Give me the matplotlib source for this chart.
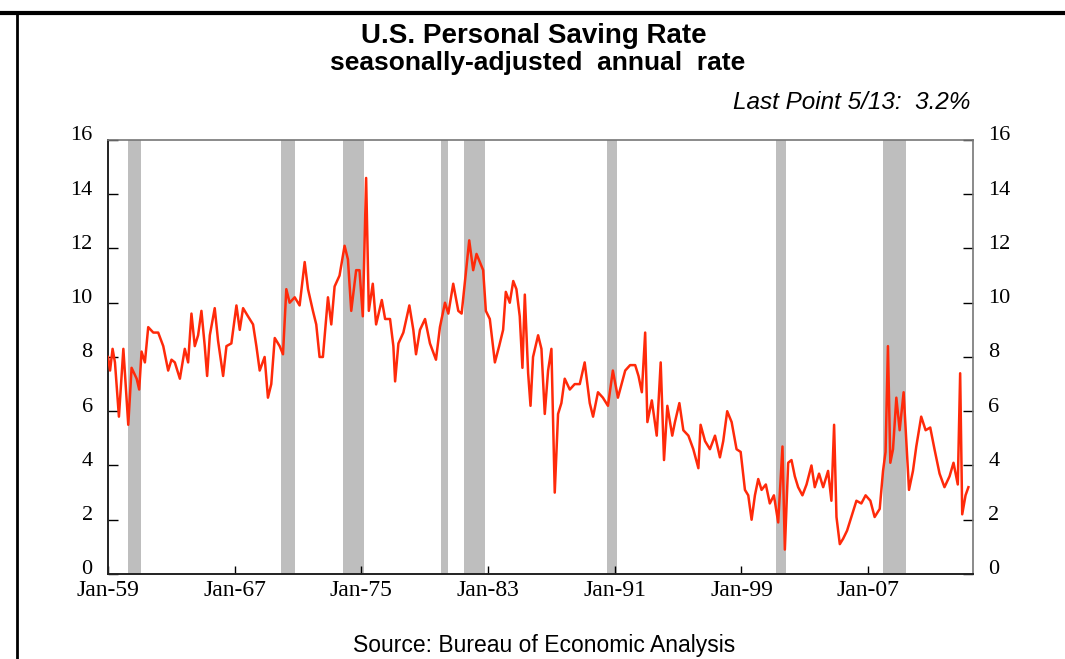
import matplotlib
matplotlib.use("Agg")
import matplotlib.pyplot as plt
import matplotlib.transforms as mtransforms
from matplotlib.lines import Line2D

# decimal years, saving rate in %
years = [
    1959.00, 1959.13, 1959.29, 1959.44, 1959.69, 1959.97, 1960.28, 1960.49, 1960.81, 1960.97,
    1961.12, 1961.33, 1961.54, 1961.86, 1962.17, 1962.49, 1962.80, 1963.01, 1963.22, 1963.54,
    1963.85, 1964.06, 1964.27, 1964.48, 1964.69, 1964.90, 1965.11, 1965.26, 1965.43, 1965.74,
    1965.95, 1966.27, 1966.48, 1966.79, 1967.11, 1967.32, 1967.53, 1967.84, 1968.16, 1968.37,
    1968.58, 1968.89, 1969.10, 1969.31, 1969.53, 1969.84, 1970.05, 1970.26, 1970.47, 1970.79,
    1971.10, 1971.42, 1971.63, 1971.94, 1972.15, 1972.36, 1972.57, 1972.89, 1973.10, 1973.31,
    1973.62, 1973.94, 1974.15, 1974.36, 1974.67, 1974.88, 1975.09, 1975.30, 1975.47, 1975.72,
    1975.93, 1976.29, 1976.50, 1976.81, 1977.02, 1977.13, 1977.34, 1977.65, 1978.03, 1978.28,
    1978.45, 1978.70, 1979.02, 1979.33, 1979.71, 1979.96, 1980.28, 1980.49, 1980.80, 1981.12,
    1981.33, 1981.60, 1981.81, 1982.06, 1982.27, 1982.48, 1982.69, 1982.86, 1983.11, 1983.43,
    1983.70, 1983.95, 1984.12, 1984.37, 1984.59, 1984.79, 1985.00, 1985.17, 1985.32, 1985.53,
    1985.68, 1985.84, 1986.16, 1986.37, 1986.58, 1986.79, 1987.00, 1987.21, 1987.42, 1987.63,
    1987.84, 1988.16, 1988.47, 1988.79, 1989.10, 1989.42, 1989.63, 1989.94, 1990.25, 1990.57,
    1990.88, 1991.20, 1991.66, 1991.97, 1992.29, 1992.50, 1992.71, 1992.92, 1993.06, 1993.34,
    1993.65, 1993.90, 1994.11, 1994.32, 1994.63, 1994.80, 1995.08, 1995.33, 1995.65, 1995.96,
    1996.28, 1996.42, 1996.70, 1997.01, 1997.33, 1997.64, 1997.85, 1998.10, 1998.38, 1998.69,
    1998.95, 1999.22, 1999.43, 1999.64, 1999.85, 2000.06, 2000.27, 2000.54, 2000.79, 2001.05,
    2001.32, 2001.59, 2001.74, 2001.95, 2002.16, 2002.37, 2002.58, 2002.85, 2003.11, 2003.42,
    2003.63, 2003.90, 2004.16, 2004.47, 2004.68, 2004.85, 2005.00, 2005.21, 2005.42, 2005.67,
    2005.94, 2006.26, 2006.57, 2006.84, 2007.14, 2007.41, 2007.73, 2007.94, 2008.10, 2008.25,
    2008.40, 2008.57, 2008.78, 2008.99, 2009.24, 2009.41, 2009.58, 2009.83, 2010.04, 2010.35,
    2010.63, 2010.92, 2011.19, 2011.51, 2011.82, 2012.14, 2012.39, 2012.66, 2012.81, 2012.94,
    2013.15, 2013.33,
]
saving_rate = [
    8.0, 7.5, 8.3, 7.8, 5.8, 8.3, 5.5, 7.6, 7.2, 6.8,
    8.2, 7.8, 9.1, 8.9, 8.9, 8.4, 7.5, 7.9, 7.8, 7.2,
    8.3, 7.8, 9.6, 8.4, 8.8, 9.7, 8.4, 7.3, 8.8, 9.8,
    8.6, 7.3, 8.4, 8.5, 9.9, 9.0, 9.8, 9.5, 9.2, 8.4,
    7.5, 8.0, 6.5, 7.0, 8.7, 8.4, 8.1, 10.5, 10.0, 10.2,
    9.9, 11.5, 10.5, 9.7, 9.2, 8.0, 8.0, 10.2, 9.2, 10.6,
    11.0, 12.1, 11.6, 9.7, 11.2, 11.2, 9.5, 14.6, 9.7, 10.7,
    9.2, 10.1, 9.4, 9.4, 8.4, 7.1, 8.5, 8.9, 9.9, 9.0,
    8.1, 9.0, 9.4, 8.5, 7.9, 9.1, 10.0, 9.6, 10.7, 9.7,
    9.6, 11.1, 12.3, 11.2, 11.8, 11.5, 11.2, 9.7, 9.4, 7.8,
    8.4, 9.0, 10.4, 10.0, 10.8, 10.5, 9.5, 7.6, 10.3, 7.4,
    6.2, 8.0, 8.8, 8.3, 5.9, 7.5, 8.3, 3.0, 5.9, 6.3,
    7.2, 6.8, 7.0, 7.0, 7.8, 6.3, 5.8, 6.7, 6.5, 6.2,
    7.5, 6.5, 7.5, 7.7, 7.7, 7.3, 6.7, 8.9, 5.6, 6.4,
    5.1, 7.8, 4.2, 6.2, 5.1, 5.6, 6.3, 5.3, 5.1, 4.6,
    3.9, 5.5, 4.9, 4.6, 5.1, 4.3, 4.9, 6.0, 5.6, 4.6,
    4.5, 3.1, 2.9, 2.0, 2.9, 3.5, 3.1, 3.3, 2.6, 2.9,
    1.9, 4.7, 0.9, 4.1, 4.2, 3.6, 3.2, 2.9, 3.3, 4.0,
    3.2, 3.7, 3.2, 3.8, 2.7, 5.5, 2.1, 1.1, 1.3, 1.6,
    2.1, 2.7, 2.6, 2.9, 2.7, 2.1, 2.4, 3.8, 4.5, 8.4,
    4.1, 4.6, 6.5, 5.3, 6.7, 4.9, 3.1, 3.8, 4.7, 5.8,
    5.3, 5.4, 4.6, 3.7, 3.2, 3.6, 4.1, 3.3, 7.4, 2.2,
    2.9, 3.2,
]

# NBER recessions (start, end)
recessions = [
    (1960.25, 1961.08), (1969.92, 1970.83), (1973.83, 1975.17), (1980.00, 1980.50),
    (1981.50, 1982.83), (1990.50, 1991.17), (2001.17, 2001.83), (2007.92, 2009.42),
]

tick_years = [1959, 1967, 1975, 1983, 1991, 1999, 2007]
tick_labels = ["Jan-59", "Jan-67", "Jan-75", "Jan-83", "Jan-91", "Jan-99", "Jan-07"]
y_ticks = [0, 2, 4, 6, 8, 10, 12, 14, 16]

sans = ["Liberation Sans Narrow", "Liberation Sans", "DejaVu Sans"]
serif = ["Liberation Serif", "DejaVu Serif"]

fig = plt.figure(figsize=(10.65, 6.59), dpi=100)
ax = fig.add_axes([0.1014, 0.129, 0.8122, 0.6586])

for start, end in recessions:
    ax.axvspan(start, end, color="#bebebe", lw=0, zorder=1)

ax.plot(years, saving_rate, color="#ff2a0a", lw=1.8, zorder=3)

ax.set_xlim(1959, 2013.62)
ax.set_ylim(0, 16)
ax.set_xticks(tick_years)
ax.set_xticklabels(tick_labels, fontfamily=serif, fontsize=17)
ax.set_yticks(y_ticks)
ax.tick_params(axis="x", direction="in", length=6, width=1, pad=4)
ax.tick_params(axis="y", direction="in", length=7, width=1, left=True, right=True,
               labelleft=True, labelright=True, pad=11)

# y labels sit a little above their ticks in the original
up = mtransforms.ScaledTranslation(0, 0.065, fig.dpi_scale_trans)
for tick in ax.yaxis.get_major_ticks():
    for lbl in (tick.label1, tick.label2):
        lbl.set_fontfamily(serif)
        lbl.set_fontsize(16)
        lbl.set_transform(lbl.get_transform() + up)

for side in ["left", "bottom"]:
    ax.spines[side].set_color("#222222")
    ax.spines[side].set_linewidth(1.4)
for side in ["top", "right"]:
    ax.spines[side].set_color("#777777")
    ax.spines[side].set_linewidth(1.2)

fig.text(0.5015, 0.946, "U.S. Personal Saving Rate", ha="center", va="center",
         fontsize=20, fontweight="bold", family=sans)
fig.text(0.5045, 0.904, "seasonally-adjusted  annual  rate", ha="center", va="center",
         fontsize=19, fontweight="bold", family=sans)
fig.text(0.911, 0.845, "Last Point 5/13:  3.2%", ha="right", va="center",
         fontsize=17.5, style="italic", family=sans)
fig.text(0.511, 0.020, "Source: Bureau of Economic Analysis", ha="center", va="center",
         fontsize=16.5, family=sans)

# frame around the chart
fig.add_artist(Line2D([0.0, 1.0], [0.981, 0.981], transform=fig.transFigure,
                      color="black", lw=3))
fig.add_artist(Line2D([0.016, 0.016], [0.0, 0.981], transform=fig.transFigure,
                      color="black", lw=2))

fig.savefig("out.png", dpi=100)
